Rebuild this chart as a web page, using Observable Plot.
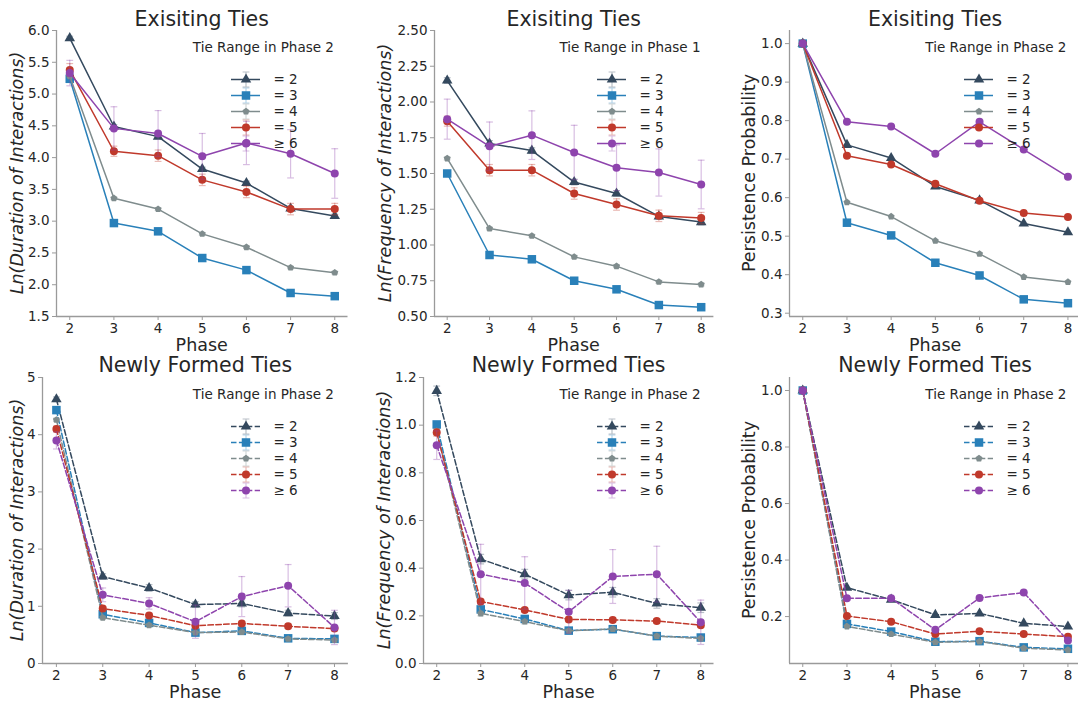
<!DOCTYPE html>
<html><head><meta charset="utf-8">
<script src="https://cdn.jsdelivr.net/npm/d3@7"></script>
<script src="https://cdn.jsdelivr.net/npm/@observablehq/plot@0.6"></script>
<style>
body{margin:0;background:#fff;}
#root{position:relative;width:1078px;height:703px;overflow:hidden;font-family:"DejaVu Sans",sans-serif;color:#262626;background:#fff;}
.abs{position:absolute;}
.lbl{position:absolute;white-space:nowrap;line-height:1;transform:translate(-50%,-50%);}
.rot{transform:translate(-50%,-50%) rotate(-90deg);}
</style></head><body><div id="root"></div>
<script>
const phases = [2, 3, 4, 5, 6, 7, 8];
const groups = ["= 2", "= 3", "= 4", "= 5", "≥ 6"];
const groupColors = ["#34495e", "#2980b9", "#7f8c8d", "#c0392b", "#8e44ad"];

// Existing ties: Ln(duration)
const exDurMean = [
  [5.88, 4.49, 4.33, 3.82, 3.60, 3.20, 3.08],
  [5.24, 2.97, 2.84, 2.42, 2.23, 1.87, 1.82],
  [5.28, 3.36, 3.19, 2.80, 2.59, 2.27, 2.19],
  [5.38, 4.10, 4.03, 3.65, 3.46, 3.19, 3.19],
  [5.33, 4.46, 4.38, 4.02, 4.23, 4.06, 3.75]];
const exDurErr = [
  [0.03, 0.03, 0.03, 0.03, 0.03, 0.03, 0.03],
  [0.02, 0.02, 0.02, 0.02, 0.02, 0.02, 0.02],
  [0.02, 0.02, 0.02, 0.02, 0.02, 0.02, 0.02],
  [0.10, 0.08, 0.09, 0.09, 0.09, 0.09, 0.09],
  [0.20, 0.34, 0.36, 0.36, 0.34, 0.38, 0.39]];

// Existing ties: Ln(frequency)
const exFreqMean = [
  [2.15, 1.71, 1.66, 1.44, 1.36, 1.20, 1.16],
  [1.50, 0.93, 0.90, 0.75, 0.69, 0.58, 0.565],
  [1.605, 1.115, 1.064, 0.917, 0.852, 0.742, 0.724],
  [1.866, 1.523, 1.523, 1.36, 1.283, 1.204, 1.188],
  [1.88, 1.69, 1.768, 1.647, 1.54, 1.507, 1.423]];
const exFreqErr = [
  [0.02, 0.02, 0.02, 0.02, 0.02, 0.02, 0.02],
  [0.01, 0.01, 0.01, 0.01, 0.01, 0.01, 0.01],
  [0.01, 0.01, 0.01, 0.01, 0.01, 0.01, 0.01],
  [0.035, 0.04, 0.04, 0.04, 0.04, 0.04, 0.04],
  [0.14, 0.17, 0.17, 0.19, 0.16, 0.165, 0.17]];

// Existing ties: persistence probability
const exPersMean = [
  [1, 0.737, 0.703, 0.629, 0.593, 0.533, 0.510],
  [1, 0.535, 0.502, 0.431, 0.398, 0.336, 0.326],
  [1, 0.588, 0.551, 0.488, 0.454, 0.394, 0.381],
  [1, 0.709, 0.686, 0.636, 0.592, 0.560, 0.550],
  [1, 0.797, 0.785, 0.714, 0.797, 0.725, 0.654]];

// Newly formed ties: Ln(duration)
const newDurMean = [
  [4.62, 1.52, 1.32, 1.03, 1.05, 0.88, 0.83],
  [4.43, 0.86, 0.71, 0.54, 0.57, 0.44, 0.43],
  [4.26, 0.80, 0.67, 0.54, 0.55, 0.43, 0.41],
  [4.10, 0.96, 0.84, 0.66, 0.70, 0.65, 0.61],
  [3.90, 1.20, 1.05, 0.73, 1.17, 1.36, 0.63]];
const newDurErr = [
  [0.04, 0.05, 0.06, 0.05, 0.06, 0.05, 0.06],
  [0.03, 0.03, 0.03, 0.03, 0.03, 0.03, 0.03],
  [0.03, 0.03, 0.03, 0.03, 0.03, 0.03, 0.03],
  [0.05, 0.04, 0.04, 0.04, 0.04, 0.04, 0.04],
  [0.15, 0.12, 0.10, 0.29, 0.35, 0.37, 0.30]];

// Newly formed ties: Ln(frequency)
const newFreqMean = [
  [1.144, 0.438, 0.375, 0.287, 0.299, 0.252, 0.234],
  [1.003, 0.227, 0.187, 0.138, 0.144, 0.115, 0.109],
  [0.975, 0.210, 0.176, 0.137, 0.145, 0.115, 0.105],
  [0.969, 0.260, 0.225, 0.185, 0.183, 0.178, 0.161],
  [0.916, 0.375, 0.338, 0.217, 0.365, 0.375, 0.173]];
const newFreqErr = [
  [0.02, 0.02, 0.02, 0.02, 0.02, 0.02, 0.02],
  [0.01, 0.01, 0.01, 0.01, 0.01, 0.01, 0.01],
  [0.01, 0.01, 0.01, 0.01, 0.01, 0.01, 0.01],
  [0.015, 0.01, 0.01, 0.01, 0.01, 0.01, 0.01],
  [0.06, 0.125, 0.11, 0.09, 0.113, 0.117, 0.093]];

// Newly formed ties: persistence probability
const newPersMean = [
  [1, 0.302, 0.260, 0.206, 0.211, 0.176, 0.165],
  [1, 0.174, 0.147, 0.111, 0.113, 0.091, 0.086],
  [1, 0.165, 0.138, 0.109, 0.112, 0.088, 0.082],
  [1, 0.202, 0.182, 0.138, 0.148, 0.138, 0.129],
  [1, 0.265, 0.265, 0.153, 0.266, 0.285, 0.115]];

const titles = ["Exisiting Ties", "Exisiting Ties", "Exisiting Ties", "Newly Formed Ties", "Newly Formed Ties", "Newly Formed Ties"];
const yLabels = ["Ln(Duration of Interactions)", "Ln(Frequency of Interactions)", "Persistence Probability",
                 "Ln(Duration of Interactions)", "Ln(Frequency of Interactions)", "Persistence Probability"];
const legendTitles = ["Tie Range in Phase 2", "Tie Range in Phase 1", "Tie Range in Phase 2",
                      "Tie Range in Phase 2", "Tie Range in Phase 2", "Tie Range in Phase 2"];
const yTicks = [
  [1.5, 2.0, 2.5, 3.0, 3.5, 4.0, 4.5, 5.0, 5.5, 6.0],
  [0.5, 0.75, 1.0, 1.25, 1.5, 1.75, 2.0, 2.25, 2.5],
  [0.3, 0.4, 0.5, 0.6, 0.7, 0.8, 0.9, 1.0],
  [0, 1, 2, 3, 4, 5],
  [0, 0.2, 0.4, 0.6, 0.8, 1.0, 1.2],
  [0.2, 0.4, 0.6, 0.8, 1.0]];

// custom symbols
const pentagon = {draw(ctx, size) {
  const R = Math.sqrt(size / 2.378);
  for (let i = 0; i < 5; i++) {
    const a = -Math.PI / 2 + i * 2 * Math.PI / 5;
    const px = R * Math.cos(a), py = R * Math.sin(a);
    if (i === 0) ctx.moveTo(px, py); else ctx.lineTo(px, py);
  }
  ctx.closePath();
}};
const capSym = {draw(ctx, size) {
  const w = Math.sqrt(size / Math.PI);
  ctx.moveTo(-w, 0); ctx.lineTo(w, 0);
}};
const errSym = {draw(ctx, size) {
  const h = Math.sqrt(size / Math.PI), w = h * 0.45;
  ctx.moveTo(0, -h); ctx.lineTo(0, h);
  ctx.moveTo(-w, -h); ctx.lineTo(w, -h);
  ctx.moveTo(-w, h); ctx.lineTo(w, h);
}};
const groupSymbols = ["triangle", "square", pentagon, "circle", "circle"];
const groupR = [3.9, 4.8, 3.2, 4.0, 4.0];

const axisColor = "#9a9a9a";
const root = document.getElementById("root");

function addLabel(text, x, y, size, extra) {
  const d = document.createElement("div");
  d.className = "lbl" + (extra && extra.rot ? " rot" : "");
  d.textContent = text;
  d.style.left = x + "px"; d.style.top = y + "px"; d.style.fontSize = size + "px";
  if (extra && extra.italic) d.style.fontStyle = "italic";
  root.appendChild(d);
}

function drawPanel(spec) {
  const ml = 50, mt = 10, mr = 12, mb = 30;
  const f = spec.frame;
  const W = f.right - f.left + ml + mr;
  const H = f.bottom - f.top + mt + mb;
  const rows = [];
  groups.forEach((g, gi) => phases.forEach((p, pi) => {
    const v = spec.mean[gi][pi];
    const e = spec.err ? spec.err[gi][pi] : 0;
    rows.push({group: g, gi, phase: p, value: v, lo: v - e, hi: v + e});
  }));
  const xdom = [1.7, 8.3];
  const marks = [
    Plot.ruleX([xdom[0]], {stroke: axisColor, strokeWidth: 1.3}),
    Plot.ruleY([spec.ydom[0]], {stroke: axisColor, strokeWidth: 1.3}),
    Plot.axisX({ticks: phases, tickSize: 4, tickPadding: 2.5, label: null, stroke: axisColor, fontSize: 13.5, tickFormat: d3.format("d")}),
    Plot.axisY({ticks: spec.yticks, tickSize: 4, tickPadding: 3, label: null, stroke: axisColor, fontSize: 13.5, tickFormat: d3.format(spec.fmt)})
  ];
  groups.forEach((g, gi) => {
    const d = rows.filter(r => r.gi === gi);
    if (spec.err) {
      marks.push(Plot.ruleX(d, {x: "phase", y1: "lo", y2: "hi", stroke: "group", strokeOpacity: 0.35, strokeWidth: 1.2}));
      marks.push(Plot.dot(d, {x: "phase", y: "lo", symbol: capSym, r: 3.4, stroke: "group", fill: "none", strokeOpacity: 0.35, strokeWidth: 1.2}));
      marks.push(Plot.dot(d, {x: "phase", y: "hi", symbol: capSym, r: 3.4, stroke: "group", fill: "none", strokeOpacity: 0.35, strokeWidth: 1.2}));
    }
    marks.push(Plot.line(d, {x: "phase", y: "value", stroke: "group", strokeWidth: 1.5, strokeDasharray: spec.dash}));
    marks.push(Plot.dot(d, {x: "phase", y: "value", symbol: groupSymbols[gi], r: groupR[gi], fill: "group"}));
  });
  const svg = Plot.plot({
    width: W, height: H,
    marginLeft: ml, marginTop: mt, marginRight: mr, marginBottom: mb,
    x: {domain: xdom}, y: {domain: spec.ydom},
    color: {domain: groups, range: groupColors},
    style: {fontFamily: "DejaVu Sans, sans-serif", fontSize: "13.5px", color: "#262626", background: "transparent", overflow: "visible"},
    marks
  });
  svg.classList.add("abs");
  svg.style.left = (f.left - ml) + "px";
  svg.style.top = (f.top - mt) + "px";
  root.appendChild(svg);

  // legend
  const L = spec.legend;
  const lrows = groups.map((g, gi) => ({group: g, gi}));
  const lmarks = [];
  lrows.forEach((r, gi) => {
    const d = [r];
    if (spec.err) lmarks.push(Plot.dot(d, {x: 0.5, y: "group", symbol: errSym, r: 7.5, stroke: "group", fill: "none", strokeOpacity: 0.35, strokeWidth: 1.2}));
    lmarks.push(Plot.ruleY(d, {y: "group", x1: 0, x2: 1, stroke: "group", strokeWidth: 1.5, strokeDasharray: spec.dash}));
    lmarks.push(Plot.dot(d, {x: 0.5, y: "group", symbol: groupSymbols[gi], r: groupR[gi], fill: "group"}));
  });
  lmarks.push(Plot.text(lrows, {x: 1, y: "group", text: "group", dx: 13, textAnchor: "start", fontSize: 13.5, fill: "#262626"}));
  const lsvg = Plot.plot({
    width: 90, height: 112, margin: 0,
    x: {domain: [0, 1], range: [5, 34], axis: null},
    y: {type: "point", domain: groups, range: [12, 12 + 4 * L.step], axis: null},
    color: {domain: groups, range: groupColors},
    style: {fontFamily: "DejaVu Sans, sans-serif", fontSize: "13.5px", background: "transparent", overflow: "visible"},
    marks: lmarks
  });
  lsvg.classList.add("abs");
  lsvg.style.left = (L.x - 5) + "px";
  lsvg.style.top = (L.y - 12) + "px";
  root.appendChild(lsvg);
  addLabel(spec.legendTitle, L.tx, L.ty, 13.5);

  // titles & labels
  addLabel(spec.title, (f.left + f.right) / 2, spec.titleY, 20.5);
  addLabel("Phase", (f.left + f.right) / 2, spec.phaseY, 17.5);
  addLabel(spec.ylabel, spec.ylabelX, (f.top + f.bottom) / 2, 17.5, {rot: true, italic: spec.italic});
}

const panels = [
  {mean: exDurMean, err: exDurErr, ydom: [1.5, 6.0], fmt: ".1f", frame: {left: 56, right: 347.5, top: 30, bottom: 316},
   legend: {x: 230.7, y: 69.5, step: 20.6, tx: 263.4, ty: 48.3}, titleY: 19.3, phaseY: 345.5, ylabelX: 17.5, italic: true},
  {mean: exFreqMean, err: exFreqErr, ydom: [0.5, 2.5], fmt: ".2f", frame: {left: 434, right: 713.4, top: 30, bottom: 316},
   legend: {x: 597.3, y: 69.5, step: 20.6, tx: 630, ty: 48.3}, titleY: 19.3, phaseY: 345.5, ylabelX: 385.5, italic: true},
  {mean: exPersMean, err: null, ydom: [0.2915, 1.034], fmt: ".1f", frame: {left: 789.3, right: 1081, top: 30, bottom: 316},
   legend: {x: 964, y: 69.5, step: 20.6, tx: 995.9, ty: 48.3}, titleY: 19.3, phaseY: 345.5, ylabelX: 750, italic: false},
  {mean: newDurMean, err: newDurErr, ydom: [0, 5], fmt: "d", frame: {left: 42.3, right: 348.2, top: 377.3, bottom: 663.3},
   legend: {x: 230.7, y: 416, step: 20.75, tx: 263.4, ty: 395}, titleY: 365, phaseY: 692.5, ylabelX: 17.5, italic: true, dash: "5.5,2.4"},
  {mean: newFreqMean, err: newFreqErr, ydom: [0, 1.2], fmt: ".1f", frame: {left: 423.4, right: 713.9, top: 377.3, bottom: 663.3},
   legend: {x: 597.3, y: 416, step: 20.75, tx: 630, ty: 395}, titleY: 365, phaseY: 692.5, ylabelX: 384.5, italic: true, dash: "5.5,2.4"},
  {mean: newPersMean, err: null, ydom: [0.034, 1.046], fmt: ".1f", frame: {left: 789.3, right: 1081, top: 377.3, bottom: 663.3},
   legend: {x: 964, y: 416, step: 20.75, tx: 995.9, ty: 395}, titleY: 365, phaseY: 692.5, ylabelX: 750, italic: false, dash: "5.5,2.4"}
];
panels.forEach((p, i) => {
  p.title = titles[i]; p.ylabel = yLabels[i]; p.legendTitle = legendTitles[i]; p.yticks = yTicks[i];
  drawPanel(p);
});
</script></body></html>
